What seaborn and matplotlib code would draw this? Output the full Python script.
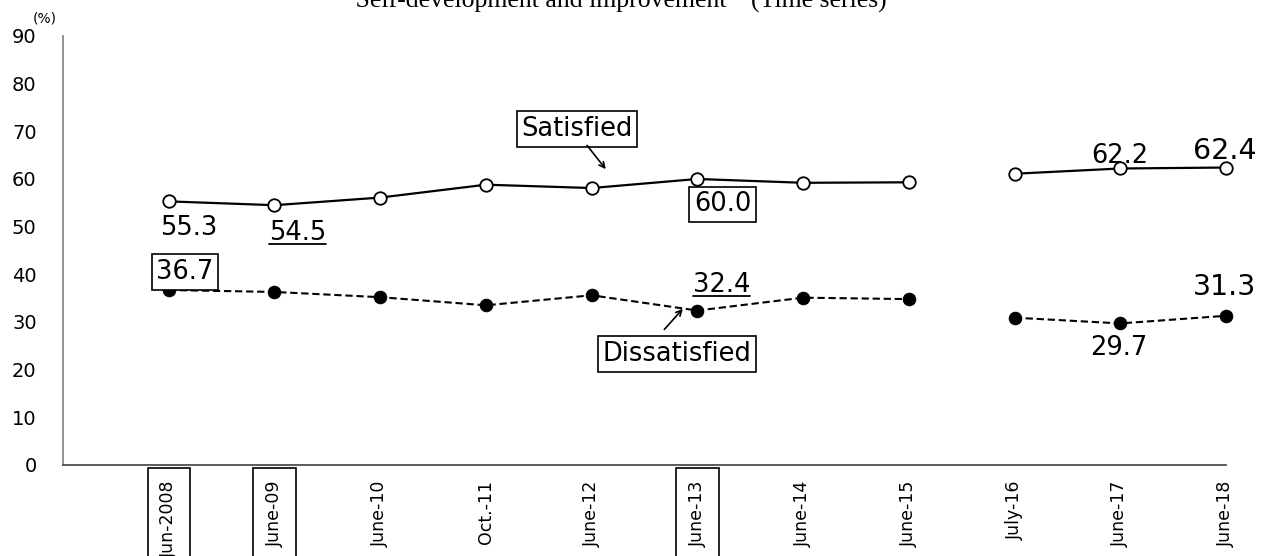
import numpy as np
import pandas as pd
import matplotlib
matplotlib.use("Agg")
import matplotlib.pyplot as plt
from matplotlib.lines import Line2D
import seaborn as sns

# survey waves and results (%)
periods = ["Jun-2008", "June-09", "June-10", "Oct.-11", "June-12", "June-13",
           "June-14", "June-15", "July-16", "June-17", "June-18"]
satisfied = [55.3, 54.5, 56.1, 58.8, 58.1, 60.0, 59.2, 59.3, 61.1, 62.2, 62.4]
dissatisfied = [36.7, 36.3, 35.2, 33.5, 35.6, 32.4, 35.1, 34.8, 30.9, 29.7, 31.3]
# survey method changed after June-15 -> line is broken there
segment = [0, 0, 0, 0, 0, 0, 0, 0, 1, 1, 1]
boxed_ticks = [0, 1, 5]

sns.set_style("white")
plt.rcParams["font.family"] = ["DejaVu Sans"]
plt.rcParams["text.color"] = "black"
plt.rcParams["xtick.labelcolor"] = "black"
plt.rcParams["ytick.labelcolor"] = "black"

df = pd.DataFrame({
    "pos": np.arange(len(periods)),
    "Satisfied": satisfied,
    "Dissatisfied": dissatisfied,
    "segment": segment,
})

fig = plt.figure(figsize=(12.71, 5.56), dpi=100)
ax = fig.add_axes([0.0496, 0.1637, 0.9150, 0.7716])

for seg, part in df.groupby("segment"):
    sns.lineplot(data=part, x="pos", y="Satisfied", ax=ax, color="black",
                 linewidth=1.6, marker="o", markersize=9, markerfacecolor="white",
                 markeredgecolor="black", markeredgewidth=1.3, clip_on=False)
    sns.lineplot(data=part, x="pos", y="Dissatisfied", ax=ax, color="black",
                 linewidth=1.5, linestyle=(0, (3.5, 1.8)), marker="o", markersize=9,
                 markerfacecolor="black", markeredgecolor="black", clip_on=False)

ax.set_xlim(-1, 10)
ax.set_ylim(0, 90)
ax.set_yticks(range(0, 91, 10))
ax.set_xticks(df["pos"])
ax.set_xticklabels(periods, rotation=90, fontsize=12.5)
ax.set_xlabel("")
ax.set_ylabel("")
for i in boxed_ticks:
    ax.get_xticklabels()[i].set_bbox(dict(boxstyle="square,pad=0.7", fc="none",
                                          ec="black", lw=1.2))

ax.tick_params(axis="y", direction="in", length=6.5, width=1, pad=19,
               labelsize=14, color="#7f7f7f")
ax.tick_params(axis="x", direction="in", length=4.5, width=1, pad=11,
               color="#404040")
sns.despine(ax=ax, top=True, right=True)
ax.spines["left"].set_color("#7f7f7f")
ax.spines["bottom"].set_color("#404040")
ax.spines["left"].set_linewidth(1.2)
ax.spines["bottom"].set_linewidth(1.2)

box = dict(boxstyle="square,pad=0.18", fc="white", ec="black", lw=1.2)
fs = 18.5

ax.text(0.19, 48.3, "55.3", fontsize=fs, ha="center", va="baseline")
u1 = ax.text(1.22, 47.3, "54.5", fontsize=fs, ha="center", va="baseline")
ax.text(0.155, 39.0, "36.7", fontsize=fs, ha="center", va="baseline", bbox=box)
ax.text(5.24, 53.2, "60.0", fontsize=fs, ha="center", va="baseline", bbox=box)
u2 = ax.text(5.23, 36.3, "32.4", fontsize=fs, ha="center", va="baseline")
ax.text(9.0, 63.3, "62.2", fontsize=fs, ha="center", va="baseline")
ax.text(9.99, 64.2, "62.4", fontsize=20.5, ha="center", va="baseline")
ax.text(9.99, 35.6, "31.3", fontsize=20.5, ha="center", va="baseline")
ax.text(8.99, 23.1, "29.7", fontsize=fs, ha="center", va="baseline")

ax.text(3.86, 69.0, "Satisfied", fontsize=fs, ha="center", va="baseline", bbox=box)
ax.annotate("", xy=(4.15, 61.6), xytext=(3.94, 67.5),
            arrowprops=dict(arrowstyle="->", color="black", lw=1.2))
ax.text(4.81, 21.8, "Dissatisfied", fontsize=fs, ha="center", va="baseline", bbox=box)
ax.annotate("", xy=(4.88, 33.2), xytext=(4.67, 28.0),
            arrowprops=dict(arrowstyle="->", color="black", lw=1.2))

fig.text(45 / 1271, 1 - 18 / 556, "(%)", fontsize=10, ha="center", va="center")
fig.text(615 / 1271, 1 - 8 / 556,
         "\u201cSelf-development and improvement\u201d  (Time series)",
         fontsize=18.5, fontfamily=["Liberation Serif"], ha="center", va="baseline")

# underline the two highlighted values, measured from the rendered text
fig.canvas.draw()
renderer = fig.canvas.get_renderer()
inv = fig.transFigure.inverted()
for t in (u1, u2):
    bb = t.get_window_extent(renderer)
    (x0, y0), (x1, _) = inv.transform([(bb.x0, bb.y0 + 2), (bb.x1, bb.y0)])
    fig.add_artist(Line2D([x0, x1], [y0, y0], transform=fig.transFigure,
                          color="black", lw=1.3))

fig.savefig("out.png", dpi=100)
